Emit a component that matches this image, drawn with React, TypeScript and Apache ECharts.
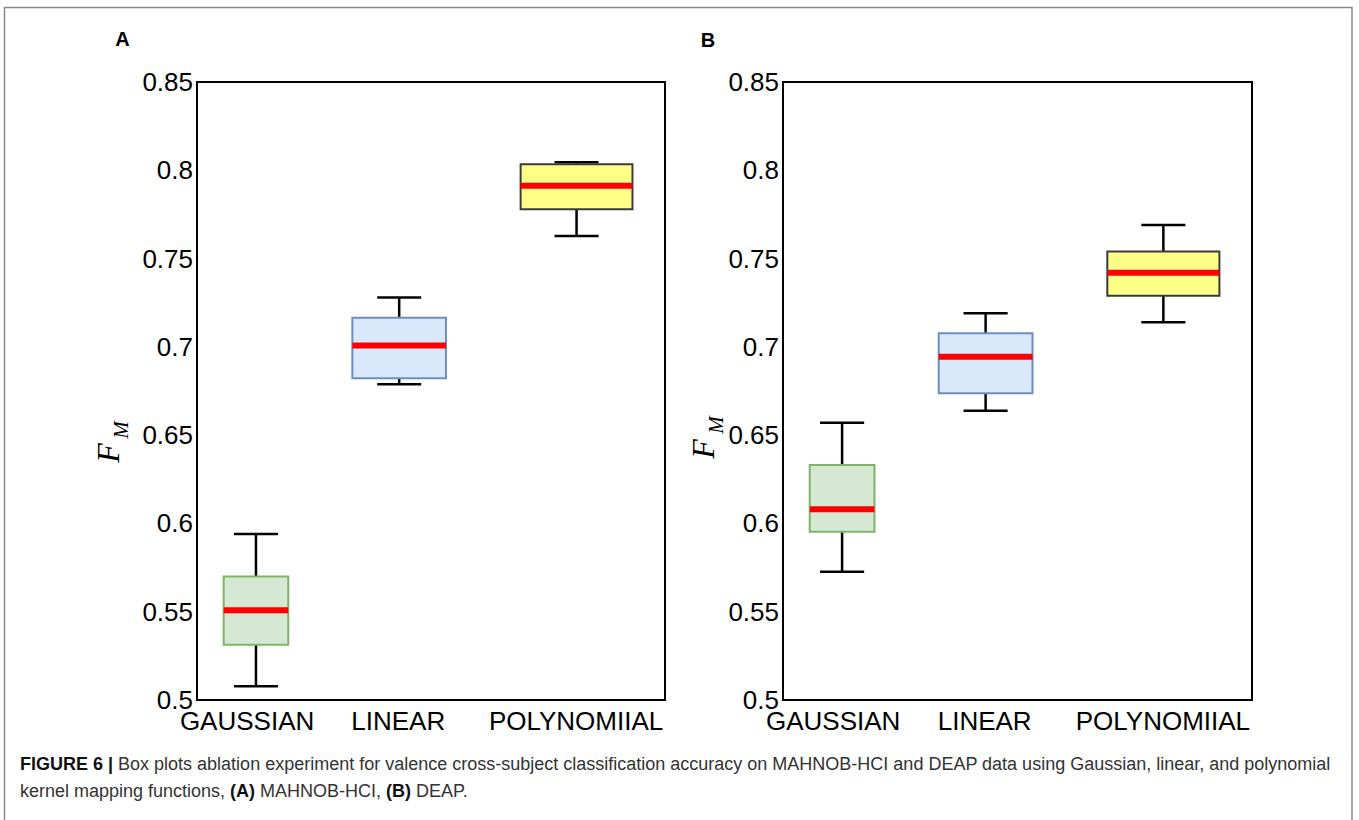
import React, { useEffect, useRef } from "react";
import * as echarts from "echarts";

// ---------- data ----------
const categories = ["GAUSSIAN", "LINEAR", "POLYNOMIIAL"];
// each box: [lower whisker, Q1, median, Q3, upper whisker]
const mahnobGaussian = [0.5078, 0.5313, 0.5508, 0.5699, 0.594];
const mahnobLinear = [0.6788, 0.6822, 0.7007, 0.7165, 0.728];
const mahnobPolynomial = [0.7628, 0.7779, 0.7913, 0.8034, 0.8045];
const deapGaussian = [0.5727, 0.5953, 0.608, 0.6331, 0.657];
const deapLinear = [0.6638, 0.6737, 0.6944, 0.7077, 0.719];
const deapPolynomial = [0.714, 0.729, 0.742, 0.754, 0.769];
const yMin = 0.5;
const yMax = 0.85;
const yStep = 0.05;

// ---------- layout / style ----------
const BOX_CENTER = [0.126, 0.432, 0.811];
const BOX_WIDTH = [0.138, 0.2, 0.239];
const CAP_WIDTH = 0.094;
const LABEL_POS = [0.107, 0.43, 0.81];
const FILL = ["#d5e8d4", "#dae8fc", "#ffff88"];
const STROKE = ["#82b366", "#6c8ebf", "#3b3b3b"];
const FONT = "'Liberation Sans', Arial, Helvetica, sans-serif";

function buildData(boxes: number[][]) {
  return boxes.map((b, i) => [BOX_CENTER[i], b[0], b[1], b[2], b[3], b[4], BOX_WIDTH[i], i]);
}

const renderBox = (_params: any, api: any) => {
  const x = api.value(0);
  const idx = api.value(7);
  const pLo = api.coord([x, api.value(1)]);
  const pQ1 = api.coord([x, api.value(2)]);
  const pMed = api.coord([x, api.value(3)]);
  const pQ3 = api.coord([x, api.value(4)]);
  const pHi = api.coord([x, api.value(5)]);
  const halfW = api.size([api.value(6), 0])[0] / 2;
  const halfCap = api.size([CAP_WIDTH, 0])[0] / 2;
  const cx = pLo[0];
  const whisk = { stroke: "#000", lineWidth: 2.5 };
  return {
    type: "group",
    children: [
      { type: "line", shape: { x1: cx, y1: pLo[1], x2: cx, y2: pQ1[1] }, style: whisk },
      { type: "line", shape: { x1: cx, y1: pQ3[1], x2: cx, y2: pHi[1] }, style: whisk },
      { type: "line", shape: { x1: cx - halfCap, y1: pLo[1], x2: cx + halfCap, y2: pLo[1] }, style: whisk },
      { type: "line", shape: { x1: cx - halfCap, y1: pHi[1], x2: cx + halfCap, y2: pHi[1] }, style: whisk },
      {
        type: "rect",
        shape: { x: cx - halfW, y: pQ3[1], width: halfW * 2, height: pQ1[1] - pQ3[1] },
        style: { fill: FILL[idx], stroke: STROKE[idx], lineWidth: 2 },
      },
      {
        type: "rect",
        shape: { x: cx - halfW, y: pMed[1] - 3, width: halfW * 2, height: 6 },
        style: { fill: "#ff0000" },
      },
    ],
  };
};

function nearestLabel(v: number) {
  let best = 0;
  LABEL_POS.forEach((p, i) => {
    if (Math.abs(p - v) < Math.abs(LABEL_POS[best] - v)) best = i;
  });
  return categories[best];
}

function xAxisFor(gridIndex: number) {
  return {
    type: "value",
    gridIndex,
    min: 0,
    max: 1,
    axisLine: { show: true, lineStyle: { color: "#000", width: 2 } },
    axisTick: { show: false },
    splitLine: { show: false },
    axisLabel: {
      customValues: LABEL_POS,
      formatter: (v: number) => nearestLabel(v),
      fontSize: 26,
      fontFamily: FONT,
      color: "#000",
      margin: 8,
    },
  };
}

function yAxisFor(gridIndex: number) {
  return {
    type: "value",
    gridIndex,
    min: yMin,
    max: yMax,
    interval: yStep,
    axisLine: { show: true, lineStyle: { color: "#000", width: 2 } },
    axisTick: { show: false },
    splitLine: { show: false },
    axisLabel: {
      fontSize: 26,
      fontFamily: FONT,
      color: "#000",
      margin: 4,
      showMinLabel: true,
      showMaxLabel: true,
    },
  };
}

function fmLabel(fx: number, fy: number, mx: number, my: number) {
  const serif = "'Liberation Serif', 'DejaVu Serif', serif";
  return [
    {
      type: "text",
      x: fx,
      y: fy,
      rotation: Math.PI / 2,
      style: {
        text: "F",
        font: `italic 32px ${serif}`,
        fill: "#000",
        align: "center",
        verticalAlign: "middle",
      },
    },
    {
      type: "text",
      x: mx,
      y: my,
      rotation: Math.PI / 2,
      style: {
        text: "M",
        font: `italic 21px ${serif}`,
        fill: "#000",
        align: "center",
        verticalAlign: "middle",
      },
    },
  ];
}

export default function App() {
  const ref = useRef<HTMLDivElement>(null);
  useEffect(() => {
    if (!ref.current) return;
    const chart = echarts.init(ref.current, undefined, { renderer: "svg" });
    const captionRich = { b: { fontWeight: "bold", fontSize: 18, fontFamily: FONT, fill: "#111" } };
    const option: any = {
      animation: false,
      backgroundColor: "#fff",
      grid: [
        { left: 197, top: 82, width: 468, height: 618, show: true, borderColor: "#000", borderWidth: 2, backgroundColor: "#fff" },
        { left: 783, top: 82, width: 469, height: 618, show: true, borderColor: "#000", borderWidth: 2, backgroundColor: "#fff" },
      ],
      xAxis: [xAxisFor(0), xAxisFor(1)],
      yAxis: [yAxisFor(0), yAxisFor(1)],
      series: [
        {
          type: "custom",
          name: "MAHNOB-HCI",
          xAxisIndex: 0,
          yAxisIndex: 0,
          renderItem: renderBox,
          encode: { x: 0, y: [1, 2, 3, 4, 5] },
          data: buildData([mahnobGaussian, mahnobLinear, mahnobPolynomial]),
          clip: false,
        },
        {
          type: "custom",
          name: "DEAP",
          xAxisIndex: 1,
          yAxisIndex: 1,
          renderItem: renderBox,
          encode: { x: 0, y: [1, 2, 3, 4, 5] },
          data: buildData([deapGaussian, deapLinear, deapPolynomial]),
          clip: false,
        },
      ],
      graphic: [
        {
          type: "polyline",
          shape: { points: [[4.5, 830], [4.5, 7.5], [1352, 7.5], [1352, 830]] },
          style: { stroke: "#8a8a8a", lineWidth: 1.5, fill: "none" },
          silent: true,
        },
        {
          type: "text",
          x: 122.5,
          y: 39,
          style: { text: "A", font: `bold 20px ${FONT}`, fill: "#000", align: "center", verticalAlign: "middle" },
        },
        {
          type: "text",
          x: 708,
          y: 39.5,
          style: { text: "B", font: `bold 20px ${FONT}`, fill: "#000", align: "center", verticalAlign: "middle" },
        },
        ...fmLabel(108, 453, 121, 430),
        ...fmLabel(703, 449, 716, 425),
        {
          type: "text",
          x: 20,
          y: 764,
          style: {
            text:
              "{b|FIGURE 6 |} Box plots ablation experiment for valence cross-subject classification accuracy on MAHNOB-HCI and DEAP data using Gaussian, linear, and polynomial",
            font: `18px ${FONT}`,
            fill: "#333",
            verticalAlign: "middle",
            rich: captionRich,
          },
        },
        {
          type: "text",
          x: 20,
          y: 791,
          style: {
            text: "kernel mapping functions, {b|(A)} MAHNOB-HCI, {b|(B)} DEAP.",
            font: `18px ${FONT}`,
            fill: "#333",
            verticalAlign: "middle",
            rich: captionRich,
          },
        },
      ],
    };
    chart.setOption(option);
    return () => chart.dispose();
  }, []);
  return (
    <div
      ref={ref}
      style={{ position: "absolute", left: 0, top: 0, width: 1359, height: 820, background: "#fff" }}
    />
  );
}
